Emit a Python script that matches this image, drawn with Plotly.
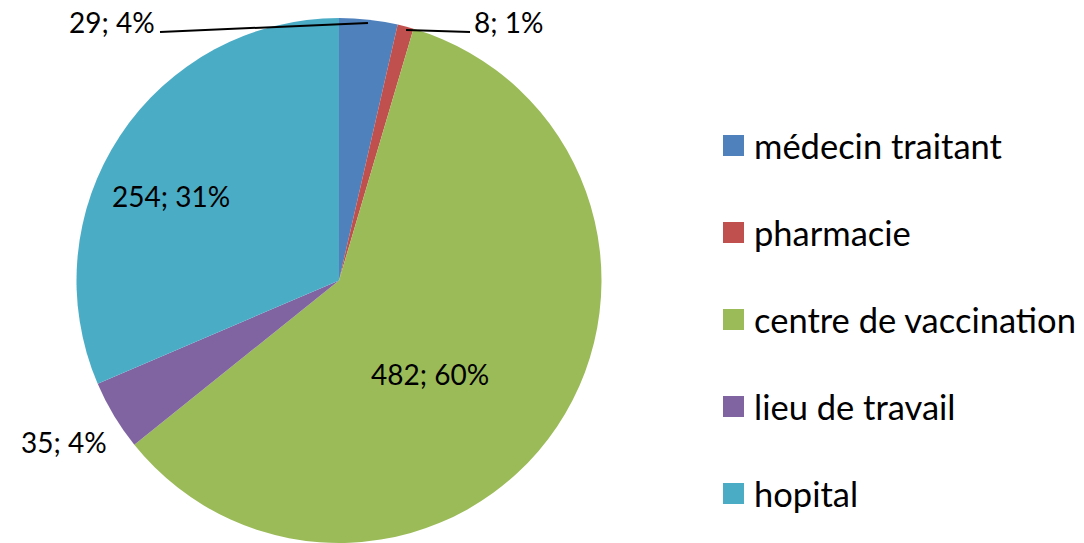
import plotly.graph_objects as go

# ---- data ----
categories = ["médecin traitant", "pharmacie", "centre de vaccination", "lieu de travail", "hopital"]
values = [29, 8, 482, 35, 254]
colors = ["#4F81BD", "#C0504D", "#9BBB59", "#8064A2", "#4BACC6"]

W, H = 1084, 543
FONT = "Lato"
FS = 28
LEG_FS = 34.5

def px(x):
    return x / W

def py(y):
    return 1 - y / H

total = sum(values)
labels_txt = [f"{v}; {round(100 * v / total)}%" for v in values]

fig = go.Figure()
fig.add_trace(go.Pie(
    labels=categories,
    values=values,
    marker=dict(colors=colors, line=dict(width=0)),
    sort=False,
    direction="clockwise",
    rotation=0,
    textinfo="none",
    hoverinfo="label+value+percent",
    showlegend=False,
    domain=dict(x=[px(339 - 262.5), px(339 + 262.5)], y=[0, 0.967]),
))

# data label placement (pixel centres of label text)
label_pos = [(111.5, 22), (508, 22), (430, 374), (64, 442), (171, 196)]
annotations = []
for txt, (x, y) in zip(labels_txt, label_pos):
    annotations.append(dict(
        x=px(x), y=py(y), xref="paper", yref="paper", text=txt, showarrow=False,
        xanchor="center", yanchor="middle", font=dict(family=FONT, size=FS, color="black"),
    ))

shapes = [
    dict(type="line", xref="paper", yref="paper", x0=px(160), y0=py(32), x1=px(368), y1=py(23),
         line=dict(color="black", width=2)),
    dict(type="line", xref="paper", yref="paper", x0=px(406), y0=py(30), x1=px(470), y1=py(32),
         line=dict(color="black", width=2)),
]

# legend (manual, matching original layout)
leg_y0, leg_dy = 145.5, 87
for i, (cat, col) in enumerate(zip(categories, colors)):
    cy = leg_y0 + i * leg_dy
    shapes.append(dict(type="rect", xref="paper", yref="paper",
                       x0=px(723), x1=px(744), y0=py(cy - 10.5), y1=py(cy + 10.5),
                       fillcolor=col, line=dict(width=0)))
    annotations.append(dict(
        x=px(752), y=py(cy), xref="paper", yref="paper", text=cat, showarrow=False,
        xanchor="left", yanchor="middle", font=dict(family=FONT, size=LEG_FS, color="black"),
    ))

fig.update_layout(
    width=W, height=H,
    margin=dict(l=0, r=0, t=0, b=0),
    paper_bgcolor="white", plot_bgcolor="white",
    annotations=annotations, shapes=shapes,
    showlegend=False,
)

fig.write_html(
    "out.html",
    config={"displayModeBar": False},
    post_script="document.body.style.margin='0';document.body.style.overflow='hidden';",
)
